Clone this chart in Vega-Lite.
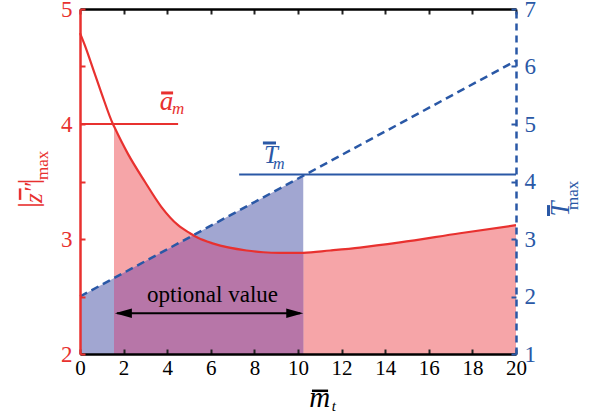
{
  "$schema": "https://vega.github.io/schema/vega-lite/v6.json",
  "width": 436,
  "height": 345,
  "autosize": "none",
  "padding": {"left": 80, "top": 9, "right": 75, "bottom": 64},
  "config": {"view": {"stroke": null}},
  "datasets": {
    "red": [
      {"x": 0, "z": 4.79}, {"x": 0.21, "z": 4.69}, {"x": 0.67, "z": 4.44}, {"x": 1.0, "z": 4.26},
      {"x": 1.51, "z": 4.0}, {"x": 1.56, "z": 3.98}, {"x": 2.2, "z": 3.74}, {"x": 2.97, "z": 3.5},
      {"x": 3.73, "z": 3.28}, {"x": 4.5, "z": 3.12}, {"x": 5.05, "z": 3.05}, {"x": 5.41, "z": 3.01},
      {"x": 6.12, "z": 2.96}, {"x": 7.64, "z": 2.9}, {"x": 8.4, "z": 2.885}, {"x": 9.17, "z": 2.88},
      {"x": 10.24, "z": 2.88}, {"x": 11.47, "z": 2.9}, {"x": 12.84, "z": 2.925}, {"x": 14.68, "z": 2.97},
      {"x": 17.43, "z": 3.05}, {"x": 20, "z": 3.12}
    ],
    "blue": [
      {"x": 0, "t": 2.0}, {"x": 10.24, "t": 4.1}, {"x": 20, "t": 6.1}
    ],
    "overlap": [
      {"x": 1.56, "z": 2.66}, {"x": 5.2, "z": 3.03}, {"x": 5.41, "z": 3.01}, {"x": 6.12, "z": 2.96},
      {"x": 7.64, "z": 2.9}, {"x": 8.4, "z": 2.885}, {"x": 9.17, "z": 2.88}, {"x": 10.24, "z": 2.88}
    ]
  },
  "layer": [
    {
      "data": {"name": "red"},
      "transform": [{"filter": "datum.x >= 1.56"}],
      "mark": {"type": "area", "color": "#F6A5A8", "interpolate": "monotone"},
      "encoding": {
        "x": {"field": "x", "type": "quantitative", "scale": {"domain": [0, 20], "nice": false, "zero": false},
          "axis": {"orient": "bottom", "values": [0, 2, 4, 6, 8, 10, 12, 14, 16, 18, 20], "title": null,
            "domainColor": "#000000", "domainWidth": 2.5, "tickColor": "#222222", "tickWidth": 2, "tickSize": -5,
            "labelFont": "Liberation Serif", "labelFontSize": 21, "labelColor": "#000000", "labelPadding": 8,
            "labelFlush": false, "grid": false, "zindex": 1}},
        "y": {"field": "z", "type": "quantitative", "scale": {"domain": [2, 5], "nice": false, "zero": false},
          "axis": {"orient": "left", "values": [2, 2.5, 3, 3.5, 4, 4.5, 5], "format": ".0f",
            "labelExpr": "datum.value % 1 === 0 ? datum.label : ''", "title": null,
            "domainColor": "#E8312F", "domainWidth": 2.5, "tickColor": "#E8312F", "tickWidth": 2, "tickSize": -5,
            "labelFont": "Liberation Serif", "labelColor": "#E8312F", "labelFontSize": 23, "labelPadding": 13,
            "grid": false, "zindex": 1}},
        "y2": {"datum": 2}
      }
    },
    {
      "data": {"name": "blue"},
      "transform": [{"filter": "datum.x <= 10.24"}],
      "mark": {"type": "area", "color": "#A1A6D1"},
      "encoding": {
        "x": {"field": "x", "type": "quantitative",
          "axis": {"orient": "top", "values": [0, 2, 4, 6, 8, 10, 12, 14, 16, 18, 20], "title": null, "labels": false,
            "domainColor": "#000000", "domainWidth": 2.5, "tickColor": "#222222", "tickWidth": 2, "tickSize": -5,
            "grid": false, "zindex": 1}},
        "y": {"field": "t", "type": "quantitative", "scale": {"domain": [1, 7], "nice": false, "zero": false},
          "axis": {"orient": "right", "values": [1, 2, 3, 4, 5, 6, 7], "format": ".0f", "title": null,
            "domainColor": "#2A58A6", "domainWidth": 2.5, "domainDash": [7, 5], "tickColor": "#2A58A6", "tickWidth": 2,
            "tickSize": -5, "labelFont": "Liberation Serif", "labelColor": "#2A58A6", "labelFontSize": 23,
            "labelPadding": 13, "grid": false, "zindex": 1}},
        "y2": {"datum": 1}
      }
    },
    {
      "layer": [
        {
          "data": {"name": "overlap"},
          "mark": {"type": "area", "color": "#B776A8"},
          "encoding": {
            "x": {"field": "x", "type": "quantitative", "axis": null},
            "y": {"field": "z", "type": "quantitative", "scale": {"domain": [2, 5], "nice": false, "zero": false}, "axis": null},
            "y2": {"datum": 2}
          }
        },
        {
          "data": {"name": "red"},
          "mark": {"type": "line", "color": "#E8312F", "strokeWidth": 2.2, "interpolate": "monotone"},
          "encoding": {
            "x": {"field": "x", "type": "quantitative", "axis": null},
            "y": {"field": "z", "type": "quantitative", "axis": null}
          }
        },
        {
          "data": {"values": [
            {"x1": 0, "x2": 4.5, "z": 4, "z2": 4, "w": 2, "c": "#E8312F"},
            {"x1": 3.72, "x2": 4.27, "z": 4.27, "z2": 4.27, "w": 3, "c": "#E8312F"},
            {"x1": 10.64, "x2": 11.38, "z": 1.68, "z2": 1.68, "w": 2.5, "c": "#000000"},
            {"x1": 1.7, "x2": 10.1, "z": 2.354, "z2": 2.354, "w": 2, "c": "#000000"},
            {"x1": -2.75, "x2": -2.75, "z": 3.34, "z2": 3.44, "w": 2.5, "c": "#E8312F"}
          ]},
          "mark": {"type": "rule"},
          "encoding": {
            "x": {"field": "x1", "type": "quantitative", "axis": null},
            "x2": {"field": "x2"},
            "y": {"field": "z", "type": "quantitative", "axis": null},
            "y2": {"field": "z2"},
            "strokeWidth": {"field": "w", "type": "quantitative", "scale": null},
            "color": {"field": "c", "type": "nominal", "scale": null}
          }
        },
        {
          "data": {"values": [{"x": 1.6, "z": 2.354}]},
          "mark": {"type": "point", "filled": true, "color": "#000000", "opacity": 1, "size": 289,
            "shape": "M 0 0 L 2 -0.55 L 2 0.55 Z"},
          "encoding": {
            "x": {"field": "x", "type": "quantitative", "axis": null},
            "y": {"field": "z", "type": "quantitative", "axis": null}
          }
        },
        {
          "data": {"values": [{"x": 10.24, "z": 2.354}]},
          "mark": {"type": "point", "filled": true, "color": "#000000", "opacity": 1, "size": 289,
            "shape": "M 0 0 L -2 -0.55 L -2 0.55 Z"},
          "encoding": {
            "x": {"field": "x", "type": "quantitative", "axis": null},
            "y": {"field": "z", "type": "quantitative", "axis": null}
          }
        },
        {
          "data": {"values": [{"x": 6.08, "z": 2.452, "label": "optional value"}]},
          "mark": {"type": "text", "font": "Liberation Serif", "fontSize": 23, "color": "#000000", "align": "center", "baseline": "alphabetic"},
          "encoding": {
            "x": {"field": "x", "type": "quantitative", "axis": null},
            "y": {"field": "z", "type": "quantitative", "axis": null},
            "text": {"field": "label"}
          }
        },
        {
          "data": {"values": [{"x": 3.97, "z": 4.12, "label": "a"}]},
          "mark": {"type": "text", "font": "Liberation Serif", "fontSize": 27, "fontStyle": "italic", "color": "#E8312F", "align": "center", "baseline": "alphabetic"},
          "encoding": {
            "x": {"field": "x", "type": "quantitative", "axis": null},
            "y": {"field": "z", "type": "quantitative", "axis": null},
            "text": {"field": "label"}
          }
        },
        {
          "data": {"values": [{"x": 4.22, "z": 4.085, "label": "m"}]},
          "mark": {"type": "text", "font": "Liberation Serif", "fontSize": 17, "fontStyle": "italic", "color": "#E8312F", "align": "left", "baseline": "alphabetic"},
          "encoding": {
            "x": {"field": "x", "type": "quantitative", "axis": null},
            "y": {"field": "z", "type": "quantitative", "axis": null},
            "text": {"field": "label"}
          }
        },
        {
          "data": {"values": [{"x": 11.0, "z": 1.535, "label": "m"}]},
          "mark": {"type": "text", "font": "Liberation Serif", "fontSize": 29, "fontStyle": "italic", "color": "#000000", "align": "center", "baseline": "alphabetic"},
          "encoding": {
            "x": {"field": "x", "type": "quantitative", "axis": null},
            "y": {"field": "z", "type": "quantitative", "axis": null},
            "text": {"field": "label"}
          }
        },
        {
          "data": {"values": [{"x": 11.55, "z": 1.505, "label": "t"}]},
          "mark": {"type": "text", "font": "Liberation Serif", "fontSize": 15, "fontStyle": "italic", "color": "#000000", "align": "left", "baseline": "alphabetic"},
          "encoding": {
            "x": {"field": "x", "type": "quantitative", "axis": null},
            "y": {"field": "z", "type": "quantitative", "axis": null},
            "text": {"field": "label"}
          }
        },
        {
          "data": {"values": [{"x": -2.35, "z": 3.296, "label": "|"}, {"x": -2.35, "z": 3.5, "label": "|"}]},
          "mark": {"type": "text", "font": "Liberation Serif", "fontSize": 30, "angle": 270, "color": "#E8312F", "align": "center", "baseline": "middle"},
          "encoding": {
            "x": {"field": "x", "type": "quantitative", "axis": null},
            "y": {"field": "z", "type": "quantitative", "axis": null},
            "text": {"field": "label"}
          }
        },
        {
          "data": {"values": [{"x": -2.1, "z": 3.4, "label": "z″"}]},
          "mark": {"type": "text", "font": "Liberation Serif", "fontSize": 25, "fontStyle": "italic", "angle": 270, "color": "#E8312F", "align": "center", "baseline": "middle"},
          "encoding": {
            "x": {"field": "x", "type": "quantitative", "axis": null},
            "y": {"field": "z", "type": "quantitative", "axis": null},
            "text": {"field": "label"}
          }
        },
        {
          "data": {"values": [{"x": -1.72, "z": 3.64, "label": "max"}]},
          "mark": {"type": "text", "font": "Liberation Serif", "fontSize": 17, "angle": 270, "color": "#E8312F", "align": "center", "baseline": "middle"},
          "encoding": {
            "x": {"field": "x", "type": "quantitative", "axis": null},
            "y": {"field": "z", "type": "quantitative", "axis": null},
            "text": {"field": "label"}
          }
        }
      ]
    },
    {
      "layer": [
        {
          "data": {"name": "blue"},
          "mark": {"type": "line", "color": "#2A58A6", "strokeWidth": 2.5, "strokeDash": [8, 5]},
          "encoding": {
            "x": {"field": "x", "type": "quantitative", "axis": null},
            "y": {"field": "t", "type": "quantitative", "scale": {"domain": [1, 7], "nice": false, "zero": false}, "axis": null}
          }
        },
        {
          "data": {"values": [
            {"x1": 7.3, "x2": 20, "t": 4.12, "t2": 4.12, "w": 2},
            {"x1": 8.39, "x2": 8.99, "t": 4.67, "t2": 4.67, "w": 3},
            {"x1": 21.49, "x2": 21.49, "t": 3.4, "t2": 3.59, "w": 3}
          ]},
          "mark": {"type": "rule", "color": "#2A58A6"},
          "encoding": {
            "x": {"field": "x1", "type": "quantitative", "axis": null},
            "x2": {"field": "x2"},
            "y": {"field": "t", "type": "quantitative", "axis": null},
            "y2": {"field": "t2"},
            "strokeWidth": {"field": "w", "type": "quantitative", "scale": null}
          }
        },
        {
          "data": {"values": [{"x": 8.76, "t": 4.32, "label": "T"}]},
          "mark": {"type": "text", "font": "Liberation Serif", "fontSize": 25, "fontStyle": "italic", "color": "#2A58A6", "align": "center", "baseline": "alphabetic"},
          "encoding": {
            "x": {"field": "x", "type": "quantitative", "axis": null},
            "y": {"field": "t", "type": "quantitative", "axis": null},
            "text": {"field": "label"}
          }
        },
        {
          "data": {"values": [{"x": 8.85, "t": 4.225, "label": "m"}]},
          "mark": {"type": "text", "font": "Liberation Serif", "fontSize": 16, "fontStyle": "italic", "color": "#2A58A6", "align": "left", "baseline": "alphabetic"},
          "encoding": {
            "x": {"field": "x", "type": "quantitative", "axis": null},
            "y": {"field": "t", "type": "quantitative", "axis": null},
            "text": {"field": "label"}
          }
        },
        {
          "data": {"values": [{"x": 22.06, "t": 3.52, "label": "T"}]},
          "mark": {"type": "text", "font": "Liberation Serif", "fontSize": 27, "fontStyle": "italic", "angle": 270, "color": "#2A58A6", "align": "center", "baseline": "middle"},
          "encoding": {
            "x": {"field": "x", "type": "quantitative", "axis": null},
            "y": {"field": "t", "type": "quantitative", "axis": null},
            "text": {"field": "label"}
          }
        },
        {
          "data": {"values": [{"x": 22.6, "t": 3.76, "label": "max"}]},
          "mark": {"type": "text", "font": "Liberation Serif", "fontSize": 17, "angle": 270, "color": "#2A58A6", "align": "center", "baseline": "middle"},
          "encoding": {
            "x": {"field": "x", "type": "quantitative", "axis": null},
            "y": {"field": "t", "type": "quantitative", "axis": null},
            "text": {"field": "label"}
          }
        }
      ]
    }
  ],
  "resolve": {"scale": {"y": "independent"}, "axis": {"x": "independent", "y": "independent"}}
}
